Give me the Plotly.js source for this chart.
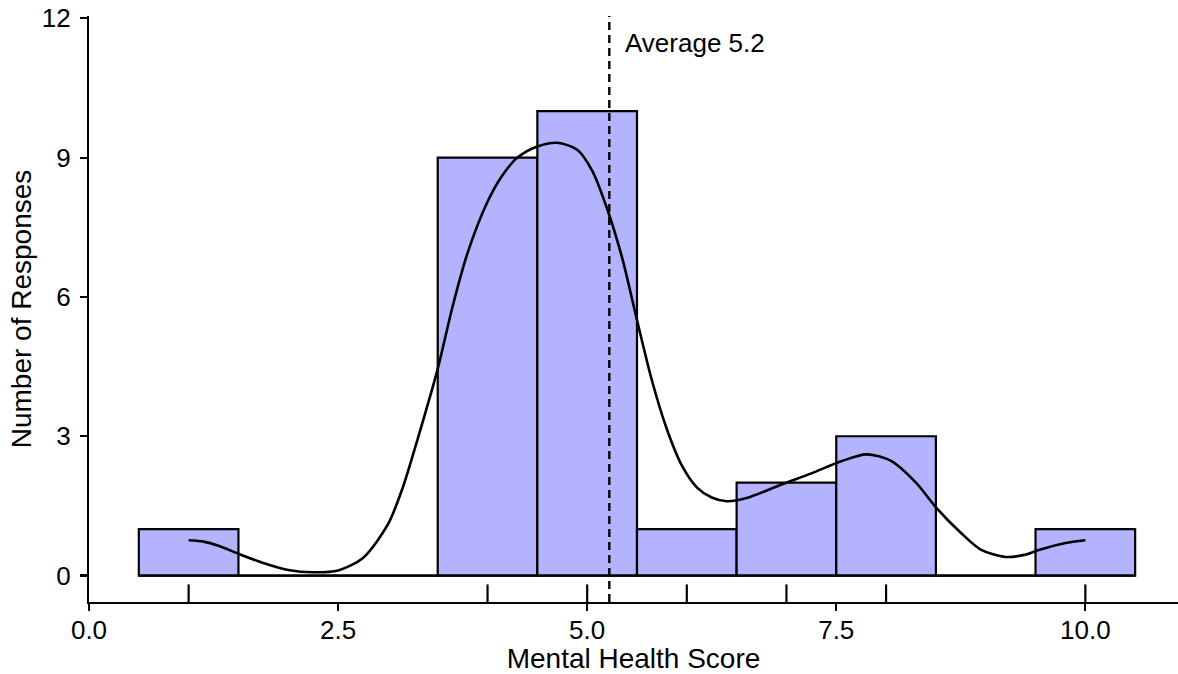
<!DOCTYPE html>
<html>
<head>
<meta charset="utf-8">
<script src="https://cdn.plot.ly/plotly-3.0.1.min.js"></script>
<style>html,body{margin:0;padding:0;background:#fff;}#chart{width:1178px;height:674px;}</style>
</head>
<body>
<div id="chart"></div>
<script>
// Histogram bins (centre of each 1-wide bin) and counts
const binCenters = [1, 2, 3, 4, 5, 6, 7, 8, 9, 10];
const counts = [1, 0, 0, 9, 10, 1, 2, 3, 0, 1];

// Density curve (scaled to counts)
const curveX = [1.0, 1.15, 1.3, 1.5, 1.75, 2.0, 2.25, 2.5, 2.75, 3.0, 3.15, 3.3, 3.5, 3.65, 3.8, 4.0, 4.15, 4.3, 4.5, 4.7, 4.9, 5.05, 5.2, 5.35, 5.5, 5.65, 5.8, 5.95, 6.1, 6.25, 6.4, 6.6, 6.95, 7.25, 7.55, 7.8, 8.05, 8.3, 8.5, 8.75, 8.95, 9.2, 9.4, 9.55, 9.8, 10.0];
const curveY = [0.76, 0.73, 0.64, 0.47, 0.27, 0.12, 0.07, 0.11, 0.38, 1.1, 1.9, 2.95, 4.45, 5.8, 6.95, 8.05, 8.62, 9.0, 9.24, 9.32, 9.17, 8.72, 7.9, 6.85, 5.5, 4.2, 3.15, 2.37, 1.9, 1.68, 1.6, 1.67, 1.96, 2.2, 2.46, 2.61, 2.47, 2.0, 1.47, 0.92, 0.56, 0.40, 0.45, 0.56, 0.70, 0.76];

// Axis ticks
const xTickVals = [0, 2.5, 5, 7.5, 10];
const xTickText = ['0.0', '2.5', '5.0', '7.5', '10.0'];
const yTickVals = [0, 3, 6, 9, 12];

const xTitle = 'Mental Health Score';
const yTitle = 'Number of Responses';

// derived values
const total = counts.reduce((a, b) => a + b, 0);
const mean = binCenters.reduce((s, v, i) => s + v * counts[i], 0) / total;
const binW = 1;
const rugVals = binCenters.filter((v, i) => counts[i] > 0);

const FONT = 'Liberation Sans, Arial, sans-serif';

const traces = [
  {
    type: 'bar', x: binCenters, y: counts, width: binW,
    marker: {color: '#B3B3FF', line: {color: '#000', width: 2.2}},
    hoverinfo: 'x+y', showlegend: false
  },
  {
    type: 'scatter', mode: 'lines',
    x: [binCenters[0] - binW / 2, binCenters[binCenters.length - 1] + binW / 2], y: [0, 0],
    line: {color: '#000', width: 2.2}, showlegend: false, hoverinfo: 'skip'
  },
  {
    type: 'scatter', mode: 'lines', x: curveX, y: curveY,
    line: {color: '#000', width: 2.6, shape: 'spline', smoothing: 0.8},
    showlegend: false
  }
];

const shapes = rugVals.map(v => ({
  type: 'line', xref: 'x', yref: 'paper', x0: v, x1: v, y0: 0, y1: 0.03,
  line: {color: '#000', width: 2.2}
}));
shapes.push({
  type: 'line', xref: 'x', yref: 'paper', x0: mean, x1: mean, y0: 0, y1: 1,
  line: {color: '#000', width: 2.4, dash: '8px,5px'}
});

const layout = {
  width: 1178, height: 674,
  margin: {l: 89, r: 0, t: 16, b: 72, pad: 0},
  paper_bgcolor: '#fff', plot_bgcolor: '#fff',
  font: {family: FONT, color: '#000', size: 26},
  bargap: 0,
  xaxis: {
    range: [0, 10.93], tickvals: xTickVals, ticktext: xTickText,
    showline: true, linecolor: '#000', linewidth: 2.2,
    ticks: 'outside', ticklen: 7, tickwidth: 2.2, tickcolor: '#000',
    showgrid: false, zeroline: false,
    tickfont: {family: FONT, size: 26, color: '#000'},
    ticklabelstandoff: -3,
    title: {text: xTitle, font: {family: FONT, size: 28, color: '#000'}, standoff: 9},
    automargin: false
  },
  yaxis: {
    range: [-0.57, 12.05], tickvals: yTickVals,
    showline: true, linecolor: '#000', linewidth: 2.2,
    ticks: 'outside', ticklen: 7, tickwidth: 2.2, tickcolor: '#000',
    showgrid: false, zeroline: false,
    tickfont: {family: FONT, size: 26, color: '#000'},
    ticklabelstandoff: 4,
    title: {text: yTitle, font: {family: FONT, size: 28, color: '#000'}, standoff: 2},
    automargin: false
  },
  shapes: shapes,
  annotations: [{
    x: mean + 0.14, y: 11.47, xref: 'x', yref: 'y',
    text: 'Average ' + mean.toFixed(1), showarrow: false,
    xanchor: 'left', yanchor: 'middle',
    font: {family: FONT, size: 26, color: '#000'}
  }]
};

Plotly.newPlot('chart', traces, layout, {displayModeBar: false, staticPlot: true});
</script>
</body>
</html>
